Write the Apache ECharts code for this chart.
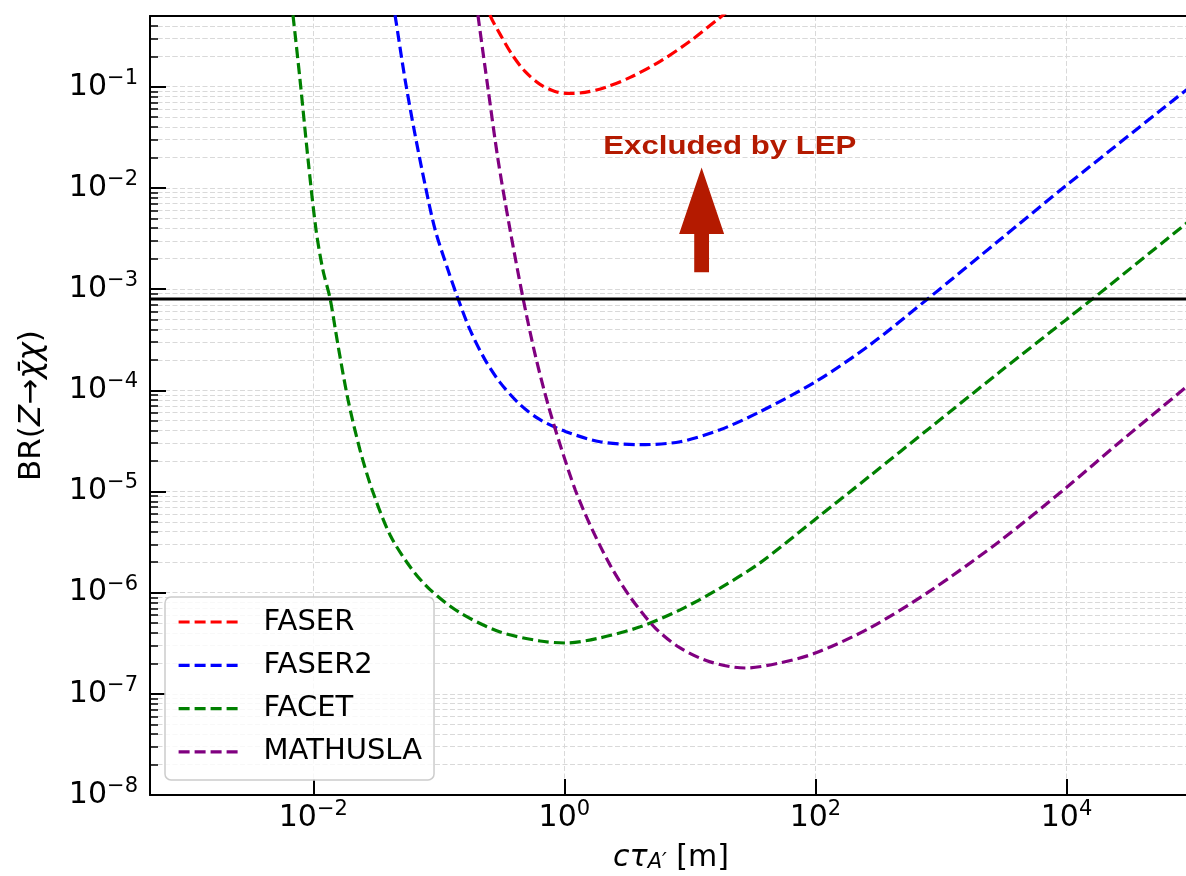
<!DOCTYPE html>
<html><head><meta charset="utf-8">
<script src="https://cdn.jsdelivr.net/npm/echarts@6/dist/echarts.min.js"></script>
<style>html,body{margin:0;padding:0;background:#fff}#c{width:1186px;height:876px}</style>
</head><body><div id="c"></div><script>
// ---- axis ranges & ticks ----
const X_MIN = 5e-4, X_MAX = 1e5, Y_MIN = 1e-8, Y_MAX = 0.5;
const xTickExps = [-2, 0, 2, 4];
const yTickExps = [-8, -7, -6, -5, -4, -3, -2, -1];
const yMinorMults = [2, 3, 4, 5, 6, 7, 8, 9];
const LEP_LIMIT = 8e-4;

// ---- series ----
const seriesNames = ['FASER', 'FASER2', 'FACET', 'MATHUSLA'];
const seriesColors = ['#ff0000', '#0000ff', '#008000', '#800080'];

const faserCtau = [0.238, 0.256, 0.308, 0.383, 0.486, 0.640, 0.843, 1.07, 1.46, 2.11, 3.34, 5.79, 10.0, 17.4, 20.9];
const faserBR   = [0.73, 0.507, 0.329, 0.208, 0.1416, 0.1054, 0.0899, 0.0859, 0.0879, 0.0984, 0.1236, 0.178, 0.281, 0.484, 0.582];

const faser2Ctau = [0.0424, 0.0448, 0.0538, 0.0646, 0.0776, 0.0933, 0.118, 0.142, 0.177, 0.233, 0.308, 0.444, 0.640, 1.03, 1.92, 4.01, 8.36, 17.4, 36.2, 101, 273, 791, 2965, 9950, 1e5];
const faser2BR   = [0.73, 0.507, 0.118, 0.0337, 0.0108, 0.00388, 0.00156, 8.07e-4, 3.97e-4, 2.01e-4, 1.19e-4, 7.21e-5, 5.12e-5, 3.90e-5, 3.10e-5, 2.90e-5, 3.10e-5, 4.07e-5, 6.14e-5, 1.22e-4, 2.82e-4, 8.07e-4, 3.09e-3, 1.057e-2, 0.103];

const facetCtau = [0.00664, 0.00689, 0.00783, 0.00908, 0.0105, 0.0119, 0.0136, 0.0157, 0.0189, 0.0235, 0.0294, 0.0408, 0.059, 0.0851, 0.148, 0.308, 0.640, 1.03, 1.92, 4.01, 8.36, 17.4, 36.2, 101, 273, 820, 2965, 9950, 1.63e4, 1e5];
const facetBR   = [0.73, 0.507, 0.118, 0.0191, 0.00388, 0.00156, 8.07e-4, 2.82e-4, 8.07e-5, 2.59e-5, 1.04e-5, 3.73e-6, 1.80e-6, 1.07e-6, 6.31e-7, 4.09e-7, 3.33e-7, 3.18e-7, 3.57e-7, 4.59e-7, 6.76e-7, 1.11e-6, 1.97e-6, 5.37e-6, 1.43e-5, 4.27e-5, 1.53e-4, 4.99e-4, 8.07e-4, 4.95e-3];

const mathuslaCtau = [0.198, 0.205, 0.247, 0.296, 0.369, 0.469, 0.585, 0.741, 0.925, 1.22, 1.60, 2.31, 3.34, 5.28, 8.36, 14.5, 27.5, 52.4, 101, 273, 820, 2965, 9950, 2.68e4, 1e5];
const mathuslaBR   = [0.73, 0.507, 0.094, 0.0191, 0.00388, 8.07e-4, 2.25e-4, 7.21e-5, 2.90e-5, 1.04e-5, 4.69e-6, 1.88e-6, 9.08e-7, 4.49e-7, 2.84e-7, 2.07e-7, 1.80e-7, 2.02e-7, 2.54e-7, 4.49e-7, 1.04e-6, 3.25e-6, 1.09e-5, 3.1e-5, 1.2e-4];

// ---- annotation ----
const annotationText = 'Excluded by LEP';
const annotationPos = [20.8, 0.0254];
const arrowCtau = 12.4, arrowTail = 1.47e-3, arrowHeadBase = 3.5e-3, arrowTip = 0.0159;

const FONT = 'DejaVu Sans';
const L = Math.log10;
const toPts = (xs, ys) => xs.map((x, i) => [L(x), L(ys[i])]);
const allX = [faserCtau, faser2Ctau, facetCtau, mathuslaCtau];
const allY = [faserBR, faser2BR, facetBR, mathuslaBR];

const yMinorVals = [];
for (const e of yTickExps) for (const m of yMinorMults) {
  const v = L(m) + e;
  if (v <= L(Y_MAX) + 1e-9) yMinorVals.push(v);
}
for (const m of [2, 3, 4]) yMinorVals.push(L(m) - 1);

const expLabel = v => {
  const e = Math.round(v);
  if (Math.abs(v - e) > 1e-6) return '';
  return '{b|10}{s|' + (e < 0 ? '\u2212' + (-e) : e) + '}';
};
const tickRich = {
  b: { fontSize: 30, fontFamily: FONT, color: '#000', lineHeight: 38 },
  s: { fontSize: 21, fontFamily: FONT, color: '#000', lineHeight: 21, verticalAlign: 'top' }
};
const gridLine = { show: true, lineStyle: { color: '#d9d9d9', width: 1, type: [5, 2.5] } };
const DASH = [11, 5];

const series = seriesNames.map((n, i) => ({
  name: n, type: 'line', data: toPts(allX[i], allY[i]),
  showSymbol: false, symbol: 'none', smooth: 0.3,
  lineStyle: { color: seriesColors[i], width: 3.2, type: DASH },
  itemStyle: { color: seriesColors[i] }, z: 3
}));
series.push({
  name: 'LEP', type: 'line', data: [[L(X_MIN), L(LEP_LIMIT)], [L(X_MAX), L(LEP_LIMIT)]],
  showSymbol: false, symbol: 'none', lineStyle: { color: '#000', width: 3 }, z: 4
});

const chart = echarts.init(document.getElementById('c'), null, { renderer: 'canvas' });
chart.setOption({
  animation: false,
  backgroundColor: '#fff',
  grid: { left: 150, top: 16, right: -6, bottom: 81, outerBoundsMode: 'none', containLabel: false },
  legend: {
    data: seriesNames, orient: 'vertical', left: 165, top: 597,
    itemWidth: 60, itemHeight: 14, itemGap: 13.3,
    padding: [10, 12, 13, 12],
    itemStyle: { opacity: 0 },
    lineStyle: { width: 3.2, type: DASH },
    backgroundColor: 'rgba(255,255,255,0.8)', borderColor: '#cccccc', borderWidth: 1.5, borderRadius: 6,
    textStyle: { fontSize: 29, fontFamily: FONT, color: '#000', lineHeight: 30, padding: [0, 0, 0, 20] }
  },
  xAxis: [{
    type: 'value', min: L(X_MIN), max: L(X_MAX), position: 'bottom',
    axisLine: { show: true, onZero: false, lineStyle: { color: '#000', width: 2 } },
    axisTick: { show: true, inside: true, length: 16, customValues: xTickExps, lineStyle: { color: '#000', width: 2 } },
    axisLabel: { customValues: xTickExps, formatter: expLabel, rich: tickRich, margin: 4 },
    splitLine: gridLine,
    name: '{i|c\u03c4}{sub|A\u2032}{n| [m]}', nameLocation: 'middle', nameGap: 48,
    nameTextStyle: { rich: {
      i: { fontSize: 30, fontFamily: FONT, fontStyle: 'italic', color: '#000', lineHeight: 30 },
      sub: { fontSize: 21, fontFamily: FONT, fontStyle: 'italic', color: '#000', lineHeight: 20, verticalAlign: 'bottom' },
      n: { fontSize: 30, fontFamily: FONT, color: '#000', lineHeight: 30 }
    } }
  }, {
    type: 'value', min: L(X_MIN), max: L(X_MAX), position: 'top',
    axisLine: { show: true, onZero: false, lineStyle: { color: '#000', width: 2 } },
    axisTick: { show: false }, axisLabel: { show: false }, splitLine: { show: false }
  }],
  yAxis: [{
    type: 'value', min: L(Y_MIN), max: L(Y_MAX), interval: 1, position: 'left',
    axisLine: { show: true, onZero: false, lineStyle: { color: '#000', width: 2 } },
    axisTick: { show: true, inside: true, length: 16, lineStyle: { color: '#000', width: 2 } },
    axisLabel: { formatter: expLabel, rich: tickRich, margin: 12 },
    splitLine: gridLine,
    name: '{n|BR(}{i|Z}{n|\u2192}{i|\u03c7\u0304\u03c7}{n|)}', nameLocation: 'middle', nameGap: 100,
    nameTextStyle: { rich: {
      i: { fontSize: 31, fontFamily: FONT, fontStyle: 'italic', color: '#000', lineHeight: 36 },
      n: { fontSize: 31, fontFamily: FONT, color: '#000', lineHeight: 36 }
    } }
  }, {
    type: 'value', min: L(Y_MIN), max: L(Y_MAX), position: 'left', offset: 0,
    axisLine: { show: false, onZero: false },
    axisTick: { show: true, inside: true, length: 8, customValues: yMinorVals, lineStyle: { color: '#000', width: 1.5 } },
    axisLabel: { show: false },
    splitLine: gridLine
  }],
  series: series
});

function drawAnnotation() {
  const p = v => chart.convertToPixel({ gridIndex: 0 }, v);
  const tip = p([L(arrowCtau), L(arrowTip)]);
  const base = p([L(arrowCtau), L(arrowHeadBase)]);
  const tail = p([L(arrowCtau), L(arrowTail)]);
  const hw = 22.5, sw = 7.4, cx = tip[0];
  const txt = p([L(annotationPos[0]), L(annotationPos[1])]);
  chart.setOption({ graphic: [
    { type: 'polygon', z: 10, shape: { points: [
      [cx, tip[1]], [cx + hw, base[1]], [cx + sw, base[1]], [cx + sw, tail[1]],
      [cx - sw, tail[1]], [cx - sw, base[1]], [cx - hw, base[1]]] },
      style: { fill: '#b41a00' } },
    { type: 'text', z: 10, x: txt[0], y: txt[1], scaleX: 1.2,
      style: { text: annotationText, fill: '#b41a00', fontSize: 26, fontFamily: 'Liberation Sans', fontWeight: 'bold', align: 'center', verticalAlign: 'middle' } }
  ] });
}
drawAnnotation();
</script></body></html>
